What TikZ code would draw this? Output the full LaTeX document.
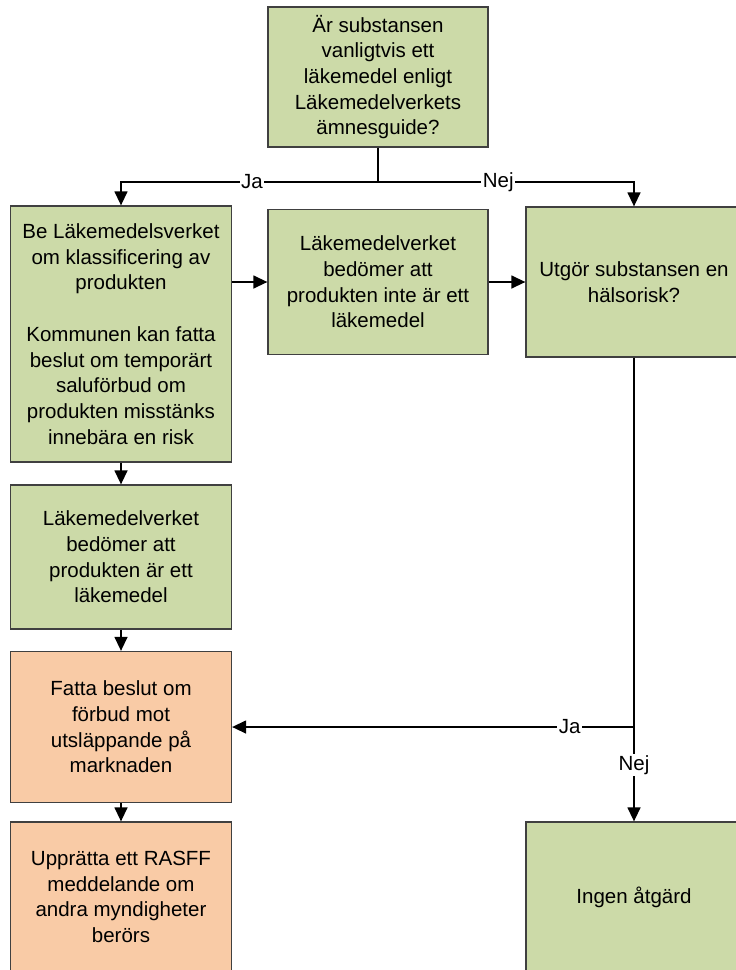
\documentclass[tikz,border=0pt]{standalone}
\usepackage{fontspec}
\setmainfont{Liberation Sans}
\usetikzlibrary{positioning, arrows.meta}
\definecolor{boxgreen}{RGB}{204,218,168}
\definecolor{boxorange}{RGB}{249,203,166}

\begin{document}
\begin{tikzpicture}[x=1pt, y=-1pt,
	box/.style={draw=black!75, line width=1.3pt, fill=boxgreen, align=center, minimum width=220pt, inner sep=3pt, font=\fontsize{20.5}{25.7}\selectfont},
	warn/.style={box, fill=boxorange},
	lbl/.style={fill=white, inner sep=1.5pt, font=\fontsize{20.5}{24}\selectfont},
	link/.style={line width=1.4pt},
	arr/.style={link, -{Triangle[length=14pt, width=13pt]}}]
	\useasboundingbox (0,0) rectangle (736,970);
	\node[box, minimum height=140pt] (q1) at (378,77) {Är substansen\\vanligtvis ett\\läkemedel enligt\\Läkemedelverkets\\ämnesguide?};
	\node[box, minimum width=221pt, minimum height=256pt] (be) at (121,334) {Be Läkemedelsverket\\om klassificering av\\produkten\\[25.7pt]Kommunen kan fatta\\beslut om temporärt\\saluförbud om\\produkten misstänks\\innebära en risk};
	\node[box, minimum height=145pt] (notlm) at (378,282) {Läkemedelverket\\bedömer att\\produkten inte är ett\\läkemedel};
	\node[box, minimum width=216pt, minimum height=150pt] (risk) at (634,282) {Utgör substansen en\\hälsorisk?};
	\node[box, minimum width=221pt, minimum height=144pt] (islm) at (121,557) {Läkemedelverket\\bedömer att\\produkten är ett\\läkemedel};
	\node[warn, minimum width=221pt, minimum height=151pt] (ban) at (121,727) {Fatta beslut om\\förbud mot\\utsläppande på\\marknaden};
	\node[warn, minimum width=221pt, minimum height=150pt] (rasff) at (121,897) {Upprätta ett RASFF\\meddelande om\\andra myndigheter\\berörs};
	\node[box, minimum width=216pt, minimum height=150pt] (none) at (634,897) {Ingen åtgärd};
	\coordinate (split) at (q1.south |- 0,182);
	\coordinate (turn) at (risk.south |- ban);
	\draw[link] (q1) -- (split);
	\draw[arr] (split) -- node[lbl, pos=0.49] {Ja} (split -| be) -- (be);
	\draw[arr] (split) -- node[lbl, pos=0.47] {Nej} (split -| risk) -- (risk);
	\draw[arr] (be.east |- notlm) -- (notlm);
	\draw[arr] (notlm) -- (risk);
	\draw[arr] (be) -- (islm);
	\draw[arr] (islm) -- (ban);
	\draw[arr] (ban) -- (rasff);
	\draw[link] (risk) -- (turn);
	\draw[arr] (turn) -- node[lbl, pos=0.16] {Ja} (ban);
	\draw[arr] (turn) -- node[lbl, pos=0.4] {Nej} (none);
\end{tikzpicture}
\end{document}
